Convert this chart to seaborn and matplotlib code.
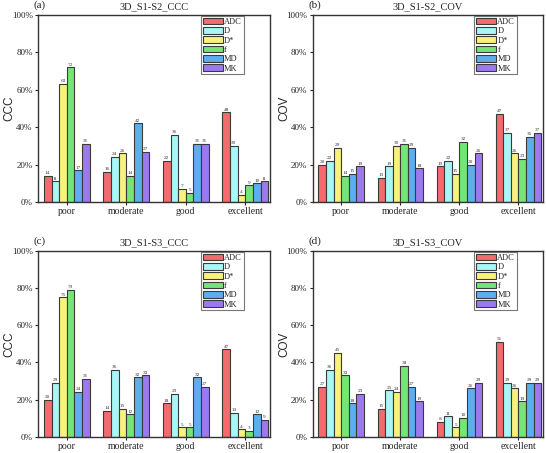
import pandas as pd
import numpy as np
import matplotlib
matplotlib.use("Agg")
import matplotlib.pyplot as plt
import seaborn as sns
from matplotlib.ticker import PercentFormatter

# ---------------------------------------------------------------
# data (percent)
# ---------------------------------------------------------------
grades = ["poor", "moderate", "good", "excellent"]
params = ["ADC", "D", "D*", "f", "MD", "MK"]

# rows: ADC, D, D*, f, MD, MK ; columns follow grades
s12_ccc = [[14, 16, 22, 48],
           [11, 24, 36, 30],
           [63, 26, 7, 4],
           [72, 14, 5, 9],
           [17, 42, 31, 10],
           [31, 27, 31, 11]]
s12_cov = [[20, 13, 19, 47],
           [22, 19, 22, 37],
           [29, 30, 15, 26],
           [14, 31, 32, 23],
           [15, 29, 20, 35],
           [19, 18, 26, 37]]
s13_ccc = [[20, 14, 18, 47],
           [29, 36, 23, 13],
           [75, 15, 5, 4],
           [79, 12, 5, 3],
           [24, 32, 32, 12],
           [31, 33, 27, 9]]
s13_cov = [[27, 15, 8, 51],
           [36, 25, 11, 29],
           [45, 24, 5, 26],
           [33, 38, 10, 19],
           [18, 27, 26, 29],
           [23, 19, 29, 29]]

panels = [("(a)", "3D_S1-S2_CCC", "CCC", s12_ccc),
          ("(b)", "3D_S1-S2_COV", "COV", s12_cov),
          ("(c)", "3D_S1-S3_CCC", "CCC", s13_ccc),
          ("(d)", "3D_S1-S3_COV", "COV", s13_cov)]

colors = ["#F46B6E", "#A9F6F6", "#F8F27C", "#74E676", "#5EAEEF", "#9D79EF"]

# ---------------------------------------------------------------
sns.set_style("ticks")
plt.rcParams["font.family"] = ["Liberation Serif", "DejaVu Serif"]
plt.rcParams["axes.edgecolor"] = "#333333"
plt.rcParams["axes.linewidth"] = 1.0

fig = plt.figure(figsize=(5.46, 4.53), dpi=100)
rects = [[0.070, 0.554, 0.425, 0.413],
         [0.573, 0.554, 0.422, 0.413],
         [0.070, 0.036, 0.425, 0.410],
         [0.573, 0.036, 0.422, 0.410]]

for (tag, title, ylab, vals), r in zip(panels, rects):
    ax = fig.add_axes(r)
    rows = []
    for p, row in zip(params, vals):
        for g, v in zip(grades, row):
            rows.append({"grade": g, "param": p, "value": v})
    df = pd.DataFrame(rows)

    sns.barplot(data=df, x="grade", y="value", hue="param", order=grades,
                hue_order=params, palette=colors, width=0.77, ax=ax,
                edgecolor="#3a3a3a", linewidth=0.8, errorbar=None, saturation=1)

    for cont in ax.containers:
        ax.bar_label(cont, fmt="%d", fontsize=3.8, padding=0.5, color="#333333")

    ax.set_ylim(0, 100)
    ax.set_xlim(-0.48, 3.42)
    ax.set_yticks(np.arange(0, 101, 20))
    ax.yaxis.set_major_formatter(PercentFormatter(decimals=0))
    ax.tick_params(axis="y", labelsize=6.5, length=2.5, width=0.8, pad=1.5)
    ax.tick_params(axis="x", labelsize=7, length=2, width=0.8, pad=1.5)
    ax.set_xlabel("")
    ax.set_ylabel(ylab, family=["Liberation Sans", "DejaVu Sans"], fontsize=8.5)
    ax.yaxis.set_label_coords(-0.098, 0.5)
    ax.set_title(title, fontsize=7.5, pad=4)
    ax.text(-0.02, 1.025, tag, transform=ax.transAxes, fontsize=8, ha="left", va="bottom")
    for s in ax.spines.values():
        s.set_visible(True)

    leg = ax.legend(loc="upper right", bbox_to_anchor=(0.885, 0.995), fontsize=6,
                    frameon=True, fancybox=False, edgecolor="#555555",
                    handlelength=2.4, handleheight=0.9, labelspacing=0.12,
                    handletextpad=0.2, borderpad=0.2, borderaxespad=0.0)
    leg.get_frame().set_linewidth(0.8)

fig.savefig("out.png", dpi=100)
